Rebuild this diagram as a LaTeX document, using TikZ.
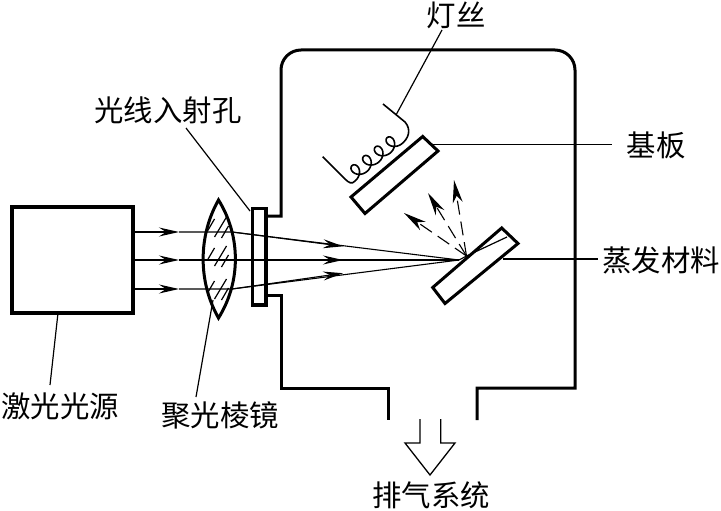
\documentclass[tikz,border=0pt]{standalone}
\usepackage{fontspec}
\setmainfont{Noto Sans CJK SC}
\usetikzlibrary{arrows.meta}
\tikzset{
  wall/.style={line width=3pt,line join=miter},
  part/.style={line width=3pt,line join=miter},
  thin line/.style={line width=1.2pt},
  hatch/.style={line width=1.2pt},
  ray/.style={line width=1.1pt},
  rayhead/.style={-{Stealth[length=20pt,width=9pt,inset=7pt]}},
  spray/.style={line width=1.1pt,dash pattern=on 14pt off 7pt,
    -{Stealth[length=23pt,width=10pt,inset=7pt]}},
  label/.style={inner sep=0pt,font=\fontsize{29.4}{31}\selectfont},
}
\begin{document}
\begin{tikzpicture}[x=1pt,y=-1pt]
\useasboundingbox (0,0) rectangle (721,511);

% vacuum chamber with window flange and exhaust port
\draw[wall] (266,216) -- (281,216) [rounded corners=20pt] -- (281,50) -- (575,50) [sharp corners] -- (575,388) -- (477,388) -- (477,420);
\draw[wall] (266,295) -- (281,295) -- (281,388) -- (388,388) -- (388,420);
\draw[line width=3.8pt,line join=miter,fill=white] (252.5,208.5) rectangle (266,305);

% laser source
\node[draw,line width=3.2pt,minimum width=121pt,minimum height=106pt,inner sep=0pt] (laser) at (72.5,260) {};

% focusing prism
\coordinate (lensT) at (218.5,200);
\coordinate (lensB) at (218.5,318);
\draw[part] (lensT) .. controls (198,236) and (198,282) .. (lensB)
            .. controls (241,282) and (241,236) .. (lensT) -- cycle;
\foreach \ya in {0,29,62}{
  \draw[hatch] (207.5,{231+\ya}) -- (214.5,{219+\ya});
  \draw[hatch] (214.5,{237+\ya}) -- (226.5,{217+\ya});
  \draw[hatch] (221.5,{238+\ya}) -- (228.5,{226+\ya});
}

% incoming rays, each with a head before the prism and after it
\coordinate (focus) at (459,260);
\foreach \n/\yy/\ye in {a/232/246.3,b/260/260,c/289/273.2}{
  \coordinate (in\n) at (laser.east |- 0,\yy);
  \coordinate (bend\n) at (232,\yy);
  \coordinate (mid\n) at (343,\ye);
  \draw[ray,rayhead] (in\n) -- (179,\yy);
  \draw[ray] (179,\yy) -- (bend\n) -- (focus);
  \draw[ray,rayhead] (bend\n) -- (mid\n);
}

% evaporation target
\draw[part,fill=white] (501.7,228) -- (518,243.5) -- (445,303.5) -- (432.7,287.5) -- cycle;
\coordinate (spot) at (466.5,256);
\draw[thin line] (spot) -- (507,237);
\draw[ray] (focus) -- (spot);

% vapour leaving the target
\coordinate (sprayA) at (404,213);
\coordinate (sprayB) at (428,193);
\coordinate (sprayC) at (454,180);
\draw[spray] (spot) -- (sprayA);
\draw[spray] (spot) -- (sprayB);
\draw[spray] (spot) -- (sprayC);

% substrate
\draw[part] (422.7,136.5) -- (438,151) -- (365,213.5) -- (351,197) -- cycle;

% heating filament: straight lead, four coil turns, straight lead
\draw[line width=1.6pt,line join=round]
  (322.7,156.7) -- (345,179)
  .. controls (349,183) and (352,184.5) .. (355,181)
  plot[smooth,samples=100,domain=0:4,variable=\t]
    ({355+0.78*(15*\t+7*sin(360*\t))-0.62*7*(1-cos(360*\t))},
     {181-0.62*(15*\t+7*sin(360*\t))-0.78*7*(1-cos(360*\t))})
  .. controls (408,139) and (412,130) .. (405,122)
  -- (383,104);
\coordinate (leadTap) at (396,115);

% labels and their leader lines
\node[label] (lblFil) at (456,15) {灯丝};
\node[label] (lblSub) at (656,145) {基板};
\node[label] (lblMat) at (661,260) {蒸发材料};
\node[label] (lblWin) at (168,110) {光线入射孔};
\node[label] (lblSrc) at (60,406) {激光光源};
\node[label] (lblLen) at (220,415) {聚光棱镜};
\node[label] (lblExh) at (431,495) {排气系统};

\draw[thin line] (leadTap) -- (442,30);
\draw[thin line] (433,144.3) -- (612,144.3);
\draw[thin line] (503,259) -- (598,259);
\draw[thin line] (186,128) -- (250,211);
\draw[thin line] (58,313) -- (50,385);
\draw[thin line] (213,300) -- (196,397);

% exhaust arrow
\draw[line width=1.3pt,line join=miter] (420,419) -- (420,443) -- (405,443) -- (430,475)
  -- (455,443) -- (440.7,443) -- (440.7,419);
\end{tikzpicture}
\end{document}
